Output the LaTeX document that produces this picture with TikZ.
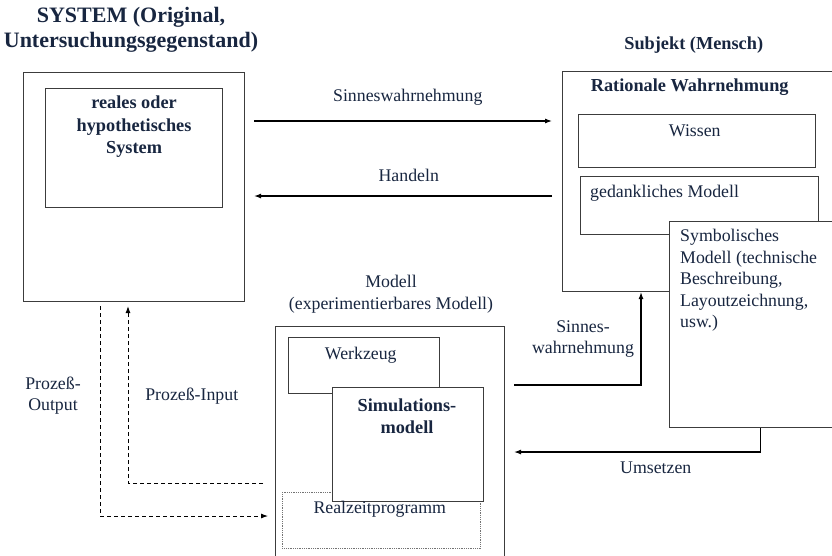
\documentclass[tikz,border=0pt]{standalone}
\usepackage{fontspec}
\setmainfont{Liberation Serif}
\usetikzlibrary{positioning,arrows.meta}
\definecolor{ink}{RGB}{24,38,64}
\definecolor{rule}{RGB}{60,60,60}

\begin{document}
\begin{tikzpicture}[x = 1pt, y = -1pt,
    every node/.style = { text = ink, align = center, inner sep = 0pt },
    box/.style = { draw = rule, line width = 1.1pt, fill = white, anchor = north west },
    body/.style = { font = \fontsize{17.8}{21.5}\selectfont },
    heavy/.style = { font = \fontsize{18.3}{22.5}\selectfont\bfseries },
    arr/.style = { draw = black, line width = 1.1pt, -{Latex[length = 7pt, width = 5pt]} },
    flow/.style = { arr, line width = 0.9pt, dash pattern = on 4pt off 3pt }]
    \useasboundingbox (0,0) rectangle (832,555);
    \clip (0,0) rectangle (832,555);

    % Original
    \node [font = \fontsize{22}{25}\selectfont\bfseries] (sysTitle) at (131,30)
        { SYSTEM (Original, \\ Untersuchungsgegenstand) };
    \node [box, minimum width = 221, minimum height = 229] (sysOuter) at (23,72) {};
    \node [box, minimum width = 177, minimum height = 119] (sysInner) at (45,88) {};
    \node [heavy, below = 8pt of sysInner.north] (sysText) { reales oder \\ hypothetisches \\ System };

    % Subjekt
    \node [heavy] (subjTitle) at (696,45) { Subjekt (Mensch) };
    \node [box, minimum width = 288, minimum height = 220] (subjOuter) at (562,71) {};
    \node [heavy] (ratText) at (692,87) { Rationale Wahrnehmung };
    \node [box, minimum width = 237, minimum height = 53] (wissen) at (578,114) {};
    \node [body] (wissenText) at (697,131) { Wissen };
    \node [box, minimum width = 238, minimum height = 58] (gedanklich) at (580,176) {};
    \node [body, anchor = west] (gedText) at (590,193) { gedankliches Modell };
    \node [box, minimum width = 181, minimum height = 206] (symb) at (669,221) {};
    \node [body, anchor = west, align = left] (symbText) at (680,280.5)
        { Symbolisches \\ Modell (technische \\ Beschreibung, \\ Layoutzeichnung, \\ usw.) };

    % Modell
    \node [body] (modTitle) at (391,294) { Modell \\ (experimentierbares Modell) };
    \node [box, minimum width = 229, minimum height = 250] (modellBox) at (275,326) {};
    \node [box, minimum width = 151, minimum height = 56] (werkzeug) at (288,337) {};
    \node [body] (werkText) at (363,355) { Werkzeug };
    \node [box, draw = black!55, line width = 0.8pt, densely dotted,
        minimum width = 198, minimum height = 56] (realzeit) at (282,492) {};
    \node [box, minimum width = 151, minimum height = 114] (simmod) at (332,387) {};
    \node [heavy] (simText) at (407,416) { Simulations- \\ modell };
    \node [body] (realText) at (382,509) { Realzeitprogramm };

    % Pfeile
    \draw [arr] ([shift = {(9,49)}]sysOuter.north east) -- ([shift = {(-10,50)}]subjOuter.north west);
    \node [body] (sinnLbl) at (410,97) { Sinneswahrnehmung };
    \draw [arr] ([shift = {(-10,125)}]subjOuter.north west) -- ([shift = {(9,124)}]sysOuter.north east);
    \node [body] (handLbl) at (411,175) { Handeln };

    \draw [arr] ([shift = {(9,59)}]modellBox.north east) -| ([xshift = 79]subjOuter.south west);
    \node [body] (sinn2Lbl) at (583,339) { Sinnes- \\ wahrnehmung };
    \draw [arr] (symb.south) |- ([shift = {(9,126)}]modellBox.north east);
    \node [body] (umsLbl) at (658,468) { Umsetzen };

    \draw [flow] ([shift = {(77,4)}]sysOuter.south west) |- ([shift = {(-7,190)}]modellBox.north west);
    \node [body] (outLbl) at (53,395.5) { Prozeß- \\ Output };
    \draw [flow] ([shift = {(-12,157)}]modellBox.north west) -| ([shift = {(105,4)}]sysOuter.south west);
    \node [body] (inLbl) at (194,396) { Prozeß-Input };
\end{tikzpicture}
\end{document}
